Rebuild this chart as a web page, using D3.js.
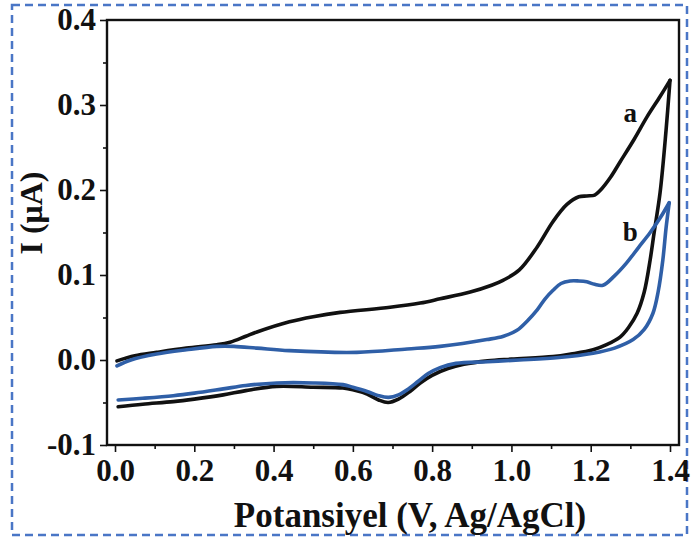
<!DOCTYPE html>
<html>
<head>
<meta charset="utf-8">
<script src="https://cdn.jsdelivr.net/npm/d3@7"></script>
<style>
  html, body { margin: 0; padding: 0; background: #fff; }
  svg { display: block; }
  text { font-family: "Liberation Serif", "Times New Roman", serif; font-weight: bold; fill: #111; }
</style>
</head>
<body>
<svg id="chart" width="691" height="538"></svg>
<script>
// Cyclic voltammograms: electrode a (black) and electrode b (blue)
const aForwardV = [0.005, 0.05, 0.105, 0.18, 0.257, 0.29, 0.33, 0.358, 0.44, 0.5, 0.568, 0.694, 0.77, 0.82, 0.896, 0.95, 0.98, 1.02, 1.065, 1.105, 1.14, 1.17, 1.19, 1.21, 1.223, 1.25, 1.274, 1.31, 1.342, 1.375, 1.4];
const aForwardI = [-0.001, 0.005, 0.009, 0.014, 0.018, 0.021, 0.028, 0.033, 0.045, 0.051, 0.056, 0.062, 0.067, 0.072, 0.080, 0.088, 0.094, 0.106, 0.133, 0.163, 0.183, 0.192, 0.193, 0.194, 0.199, 0.215, 0.233, 0.26, 0.286, 0.31, 0.329];
const aReverseV = [1.4, 1.39, 1.375, 1.36, 1.35, 1.335, 1.317, 1.295, 1.274, 1.24, 1.206, 1.15, 1.105, 1.0, 0.94, 0.88, 0.84, 0.8, 0.77, 0.744, 0.715, 0.689, 0.665, 0.636, 0.6, 0.575, 0.5, 0.408, 0.33, 0.273, 0.2, 0.147, 0.07, 0.008];
const aReverseI = [0.329, 0.27, 0.197, 0.15, 0.118, 0.08, 0.055, 0.038, 0.027, 0.018, 0.012, 0.007, 0.004, 0.001, -0.001, -0.005, -0.010, -0.018, -0.027, -0.037, -0.046, -0.050, -0.047, -0.040, -0.035, -0.033, -0.032, -0.031, -0.036, -0.041, -0.046, -0.049, -0.052, -0.055];

const bForwardV = [0.005, 0.04, 0.105, 0.18, 0.257, 0.3, 0.358, 0.44, 0.61, 0.737, 0.82, 0.938, 0.98, 1.014, 1.04, 1.065, 1.085, 1.105, 1.125, 1.148, 1.17, 1.19, 1.21, 1.231, 1.26, 1.29, 1.32, 1.35, 1.375, 1.398];
const bForwardI = [-0.007, 0.0, 0.007, 0.012, 0.016, 0.016, 0.014, 0.011, 0.009, 0.013, 0.016, 0.024, 0.028, 0.035, 0.046, 0.059, 0.072, 0.082, 0.09, 0.093, 0.093, 0.092, 0.089, 0.088, 0.099, 0.114, 0.132, 0.15, 0.167, 0.185];
const bReverseV = [1.398, 1.39, 1.382, 1.37, 1.357, 1.335, 1.307, 1.26, 1.206, 1.12, 1.02, 0.94, 0.86, 0.82, 0.79, 0.765, 0.74, 0.715, 0.69, 0.665, 0.636, 0.6, 0.575, 0.5, 0.408, 0.33, 0.273, 0.2, 0.147, 0.07, 0.008];
const bReverseI = [0.185, 0.155, 0.118, 0.08, 0.055, 0.036, 0.024, 0.014, 0.008, 0.003, 0.0, -0.002, -0.004, -0.009, -0.016, -0.025, -0.034, -0.041, -0.044, -0.042, -0.037, -0.032, -0.029, -0.027, -0.027, -0.03, -0.034, -0.039, -0.042, -0.045, -0.047];

const xMajorTicks = [0.0, 0.2, 0.4, 0.6, 0.8, 1.0, 1.2, 1.4];
const xMinorTicks = [0.1, 0.3, 0.5, 0.7, 0.9, 1.1, 1.3];
const yMajorTicks = [-0.1, 0.0, 0.1, 0.2, 0.3, 0.4];
const yMinorTicks = [-0.05, 0.05, 0.15, 0.25, 0.35];

const xTitle = "Potansiyel (V, Ag/AgCl)";
const yTitle = "I (\u03bcA)";
const curveLabels = ["a", "b"];

const svg = d3.select("#chart");

// Dashed outer border
svg.append("rect")
  .attr("x", 12).attr("y", 5).attr("width", 675).attr("height", 530)
  .attr("fill", "none").attr("stroke", "#4a76c6").attr("stroke-width", 2.5)
  .attr("stroke-dasharray", "8,5");

const plotLeft = 107, plotRight = 679, plotTop = 20, plotBottom = 445;
const x = d3.scaleLinear().domain([-0.0202, 1.4227]).range([plotLeft, plotRight]);
const y = d3.scaleLinear().domain([-0.1, 0.4]).range([plotBottom, plotTop]);

// Axes (hyphen-minus for negative labels)
const fmt = d => d3.format(".1f")(d).replace("\u2212", "-");
const gx = svg.append("g").attr("transform", `translate(0,${plotBottom})`);
gx.call(d3.axisBottom(x).tickValues(xMinorTicks).tickSize(4).tickFormat(""));
const gx2 = svg.append("g").attr("transform", `translate(0,${plotBottom})`);
gx2.call(d3.axisBottom(x).tickValues(xMajorTicks).tickSize(7).tickPadding(7).tickFormat(fmt));
const gy = svg.append("g").attr("transform", `translate(${plotLeft},0)`);
gy.call(d3.axisLeft(y).tickValues(yMinorTicks).tickSize(4).tickFormat(""));
const gy2 = svg.append("g").attr("transform", `translate(${plotLeft},0)`);
gy2.call(d3.axisLeft(y).tickValues(yMajorTicks).tickSize(7).tickPadding(4).tickFormat(fmt));

svg.selectAll(".domain").remove();
svg.selectAll(".tick line").attr("stroke", "#111").attr("stroke-width", 1.6);
gx2.selectAll("text").style("font-size", "31px").attr("fill", "#111");
gy2.selectAll("text").style("font-size", "31px").attr("fill", "#111");

// Plot frame
svg.append("rect")
  .attr("x", plotLeft).attr("y", plotTop).attr("width", plotRight - plotLeft).attr("height", plotBottom - plotTop)
  .attr("fill", "none").attr("stroke", "#111").attr("stroke-width", 2.4);

// Curves
const line = d3.line().x(d => x(d[0])).y(d => y(d[1])).curve(d3.curveCatmullRom.alpha(0.5));
const zip = (a, b) => a.map((v, i) => [v, b[i]]);
const series = [
  { color: "#111111", parts: [zip(aForwardV, aForwardI), zip(aReverseV, aReverseI)] },
  { color: "#2f5fa7", parts: [zip(bForwardV, bForwardI), zip(bReverseV, bReverseI)] }
];
series.forEach(s => {
  s.parts.forEach(p => {
    svg.append("path").attr("d", line(p))
      .attr("fill", "none").attr("stroke", s.color).attr("stroke-width", 3.6)
      .attr("stroke-linecap", "round").attr("stroke-linejoin", "round");
  });
});

// Curve labels
svg.append("text").attr("x", x(1.3)).attr("y", y(0.28)).attr("text-anchor", "middle")
  .style("font-size", "27px").text(curveLabels[0]);
svg.append("text").attr("x", x(1.3)).attr("y", y(0.14)).attr("text-anchor", "middle")
  .style("font-size", "27px").text(curveLabels[1]);

// Axis titles
svg.append("text").attr("x", 410).attr("y", 527).attr("text-anchor", "middle")
  .style("font-size", "35px").text(xTitle);
svg.append("text").attr("transform", "translate(42,213) rotate(-90)").attr("text-anchor", "middle")
  .style("font-size", "32px").text(yTitle);
</script>
</body>
</html>
